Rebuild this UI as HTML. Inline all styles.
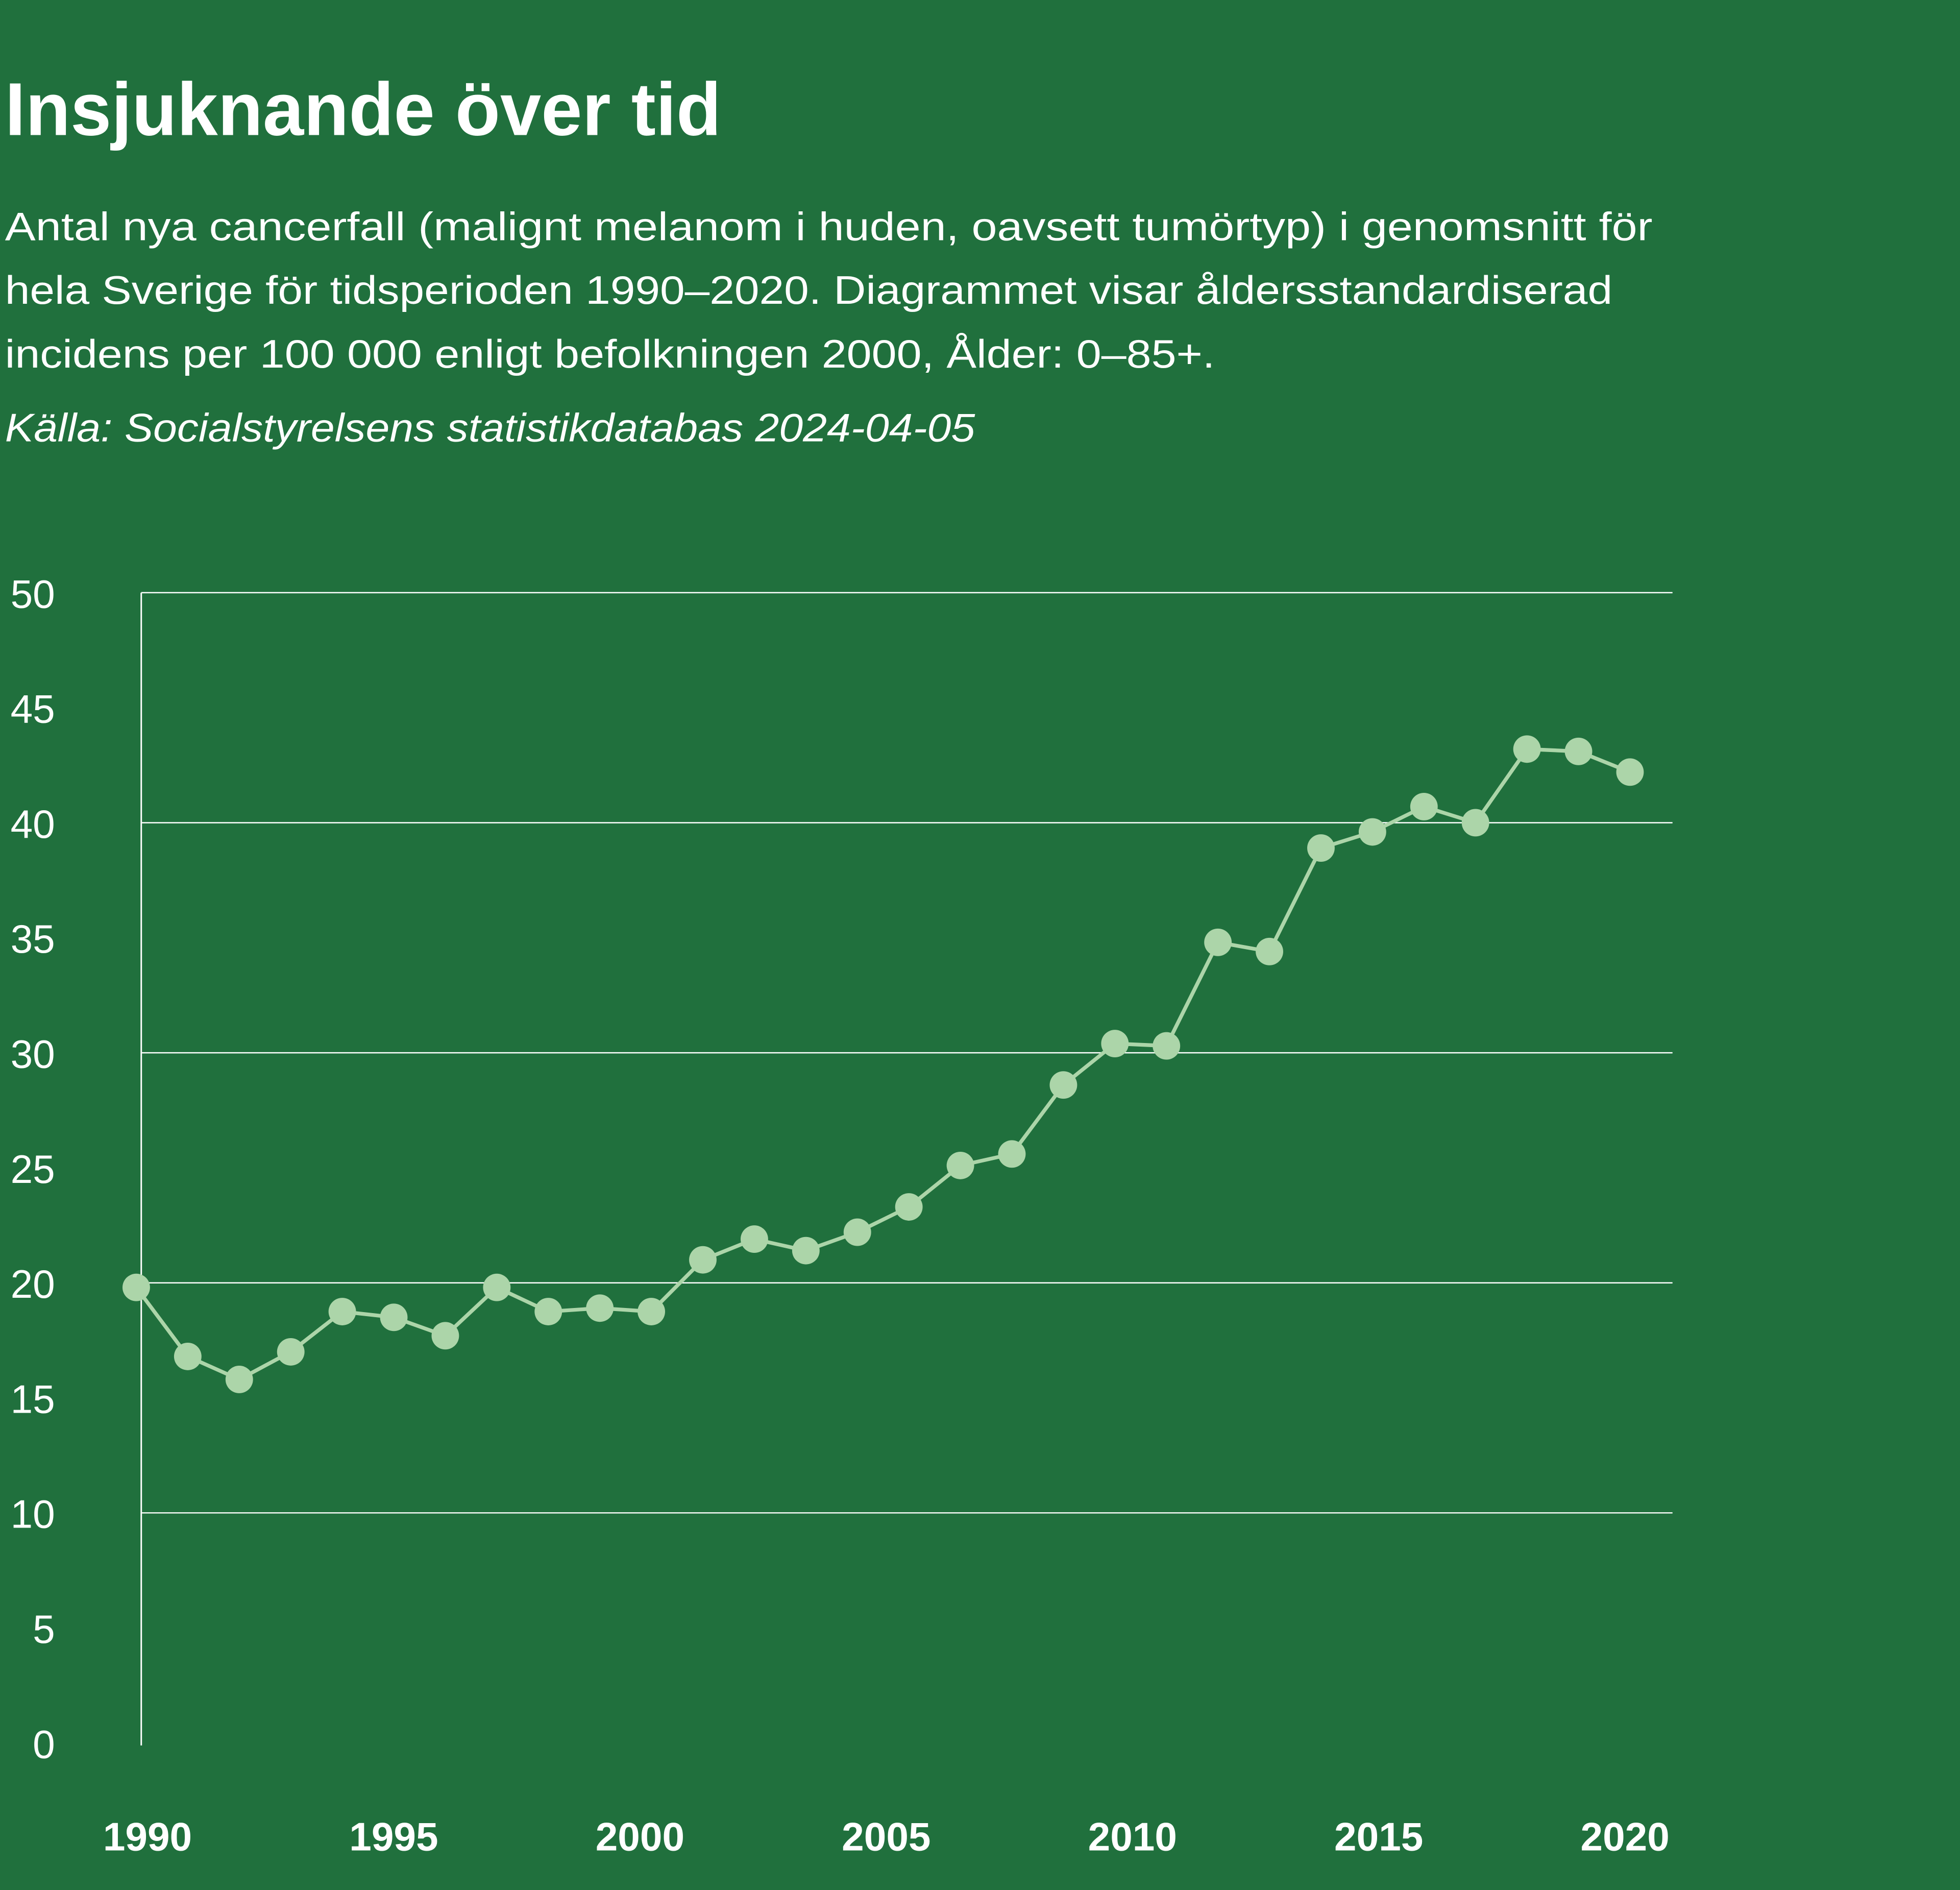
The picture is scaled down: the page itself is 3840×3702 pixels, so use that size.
<!DOCTYPE html>
<html><head><meta charset="utf-8"><style>
html,body{margin:0;padding:0;background:#20703d;}
svg{display:block}
text{font-family:"Liberation Sans",sans-serif;fill:#fff}
</style></head><body>
<svg id="chart" width="3840" height="3702" viewBox="0 0 1568 1511.6" xmlns="http://www.w3.org/2000/svg">
<rect x="0" y="0" width="1568" height="1512" fill="#20703d"/>
<text x="4" y="108" font-size="60" font-weight="bold" textLength="573" lengthAdjust="spacingAndGlyphs">Insjuknande över tid</text>
<text x="4" y="192" font-size="32" textLength="1318" lengthAdjust="spacingAndGlyphs">Antal nya cancerfall (malignt melanom i huden, oavsett tumörtyp) i genomsnitt för</text>
<text x="4" y="243" font-size="32" textLength="1286" lengthAdjust="spacingAndGlyphs">hela Sverige för tidsperioden 1990–2020. Diagrammet visar åldersstandardiserad</text>
<text x="4" y="294" font-size="32" textLength="968" lengthAdjust="spacingAndGlyphs">incidens per 100 000 enligt befolkningen 2000, Ålder: 0–85+.</text>
<text x="4" y="353" font-size="32" font-style="italic" textLength="776" lengthAdjust="spacingAndGlyphs">Källa: Socialstyrelsens statistikdatabas 2024-04-05</text>
<g id="grid"></g><g id="axes"></g><g id="series"></g>
</svg>
<script>
const yTicks = [0,5,10,15,20,25,30,35,40,45,50];
const gridValues = [10,20,30,40,50];
const xTickLabels = [1990,1995,2000,2005,2010,2015,2020];
const values = [19.8,16.8,15.8,17.0,18.75,18.5,17.7,19.8,18.75,18.9,18.75,21.0,21.9,21.4,22.2,23.3,25.1,25.6,28.6,30.4,30.3,34.8,34.4,38.9,39.6,40.7,40.0,43.2,43.1,42.2];

const NS="http://www.w3.org/2000/svg";
const y0=1394, yPer=18.4;
const yScale=v=>y0-v*yPer;
const xLab=yr=>118+(yr-1990)*(1300-118)/30;
const xPt=i=>109+i*(1304-109)/(values.length-1);
function mk(tag,attrs,parent){const e=document.createElementNS(NS,tag);for(const k in attrs)e.setAttribute(k,attrs[k]);parent.appendChild(e);return e;}
const grid=document.getElementById('grid'),axes=document.getElementById('axes'),series=document.getElementById('series');
gridValues.forEach(v=>{
  const l=mk('line',{x1:113,x2:1338,y1:yScale(v),y2:yScale(v),stroke:'#ffffff','stroke-width':1},grid);
  
  
});
const ax=mk('line',{x1:113,x2:113,y1:yScale(50),y2:y0+2,stroke:'#ffffff','stroke-width':1.2},axes);


yTicks.forEach(v=>{
  const t=mk('text',{x:44,y:yScale(v)+12,'font-size':32,'text-anchor':'end'},axes);
  t.textContent=v;
  
  
});
xTickLabels.forEach(yr=>{
  const t=mk('text',{x:xLab(yr),y:1480,'font-size':32,'font-weight':'bold','text-anchor':'middle'},axes);
  t.textContent=yr;
  
  
});
const pts=values.map((v,i)=>xPt(i)+','+yScale(v)).join(' ');
const pl=mk('polyline',{points:pts,fill:'none',stroke:'#acd5a9','stroke-width':3},series);


values.forEach((v,i)=>{
  const c=mk('circle',{cx:xPt(i),cy:yScale(v),r:11,fill:'#acd5a9'},series);
  
  
});
</script>
</body></html>
